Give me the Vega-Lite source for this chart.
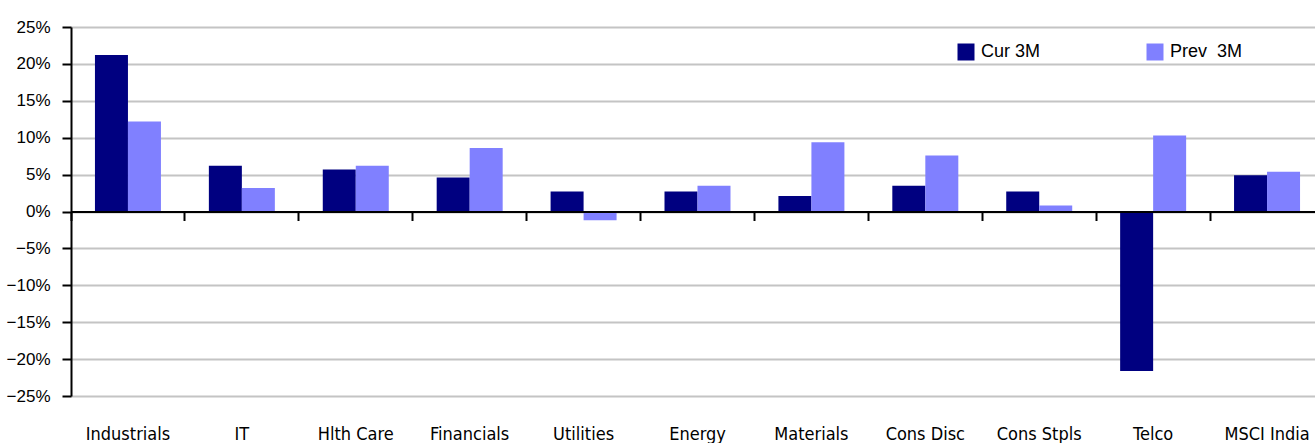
{
  "$schema": "https://vega.github.io/schema/vega-lite/v6.json",
  "width": 1244,
  "height": 369,
  "autosize": {"type": "none"},
  "padding": {"left": 71, "top": 27, "right": 0, "bottom": 47},
  "background": "white",
  "config": {
    "view": {"stroke": null},
    "axis": {"labelColor": "black"}
  },
  "data": {
    "values": [
      {"sector": "Industrials", "series": "Cur 3M", "value": 0.212},
      {"sector": "Industrials", "series": "Prev\u00a0 3M", "value": 0.122},
      {"sector": "IT", "series": "Cur 3M", "value": 0.062},
      {"sector": "IT", "series": "Prev\u00a0 3M", "value": 0.032},
      {"sector": "Hlth Care", "series": "Cur 3M", "value": 0.057},
      {"sector": "Hlth Care", "series": "Prev\u00a0 3M", "value": 0.062},
      {"sector": "Financials", "series": "Cur 3M", "value": 0.046},
      {"sector": "Financials", "series": "Prev\u00a0 3M", "value": 0.086},
      {"sector": "Utilities", "series": "Cur 3M", "value": 0.027},
      {"sector": "Utilities", "series": "Prev\u00a0 3M", "value": -0.012},
      {"sector": "Energy", "series": "Cur 3M", "value": 0.027},
      {"sector": "Energy", "series": "Prev\u00a0 3M", "value": 0.035},
      {"sector": "Materials", "series": "Cur 3M", "value": 0.021},
      {"sector": "Materials", "series": "Prev\u00a0 3M", "value": 0.094},
      {"sector": "Cons Disc", "series": "Cur 3M", "value": 0.035},
      {"sector": "Cons Disc", "series": "Prev\u00a0 3M", "value": 0.076},
      {"sector": "Cons Stpls", "series": "Cur 3M", "value": 0.027},
      {"sector": "Cons Stpls", "series": "Prev\u00a0 3M", "value": 0.008},
      {"sector": "Telco", "series": "Cur 3M", "value": -0.216},
      {"sector": "Telco", "series": "Prev\u00a0 3M", "value": 0.103},
      {"sector": "MSCI India", "series": "Cur 3M", "value": 0.049},
      {"sector": "MSCI India", "series": "Prev\u00a0 3M", "value": 0.054}
    ]
  },
  "encoding": {
    "y": {
      "field": "value",
      "type": "quantitative",
      "scale": {"domain": [-0.25, 0.25], "nice": false, "zero": false},
      "axis": {
        "title": null,
        "values": [-0.25, -0.2, -0.15, -0.1, -0.05, 0, 0.05, 0.1, 0.15, 0.2, 0.25],
        "format": ".0%",
        "labelFont": "Liberation Sans",
        "labelFontSize": 17,
        "labelPadding": 12,
        "tickSize": 9,
        "tickColor": "black",
        "tickWidth": 2,
        "domainColor": "black",
        "domainWidth": 2,
        "grid": true,
        "gridColor": "#c4c4c4",
        "gridWidth": 2
      }
    }
  },
  "layer": [
    {
      "mark": {"type": "bar"},
      "encoding": {
        "x": {
          "field": "sector",
          "type": "nominal",
          "sort": null,
          "scale": {"paddingInner": 0, "paddingOuter": 0, "range": [0, 1253]},
          "axis": {
            "orient": "bottom",
            "offset": -184.5,
            "title": null,
            "labels": false,
            "grid": false,
            "bandPosition": 0,
            "tickSize": 9,
            "tickColor": "black",
            "tickWidth": 2,
            "domainColor": "black",
            "domainWidth": 2,
            "zindex": 2
          }
        },
        "xOffset": {
          "field": "series",
          "type": "nominal",
          "sort": null,
          "scale": {"paddingInner": 0, "paddingOuter": 0.726}
        },
        "color": {
          "field": "series",
          "type": "nominal",
          "sort": null,
          "scale": {"range": ["#000080", "#8080FF"]},
          "legend": {
            "title": null,
            "orient": "none",
            "direction": "horizontal",
            "legendX": 886,
            "legendY": 16,
            "padding": 0,
            "symbolType": "square",
            "symbolSize": 289,
            "symbolStrokeWidth": 0,
            "symbolOpacity": 1,
            "labelFont": "Liberation Sans",
            "labelFontSize": 18,
            "labelColor": "black",
            "labelOffset": 6,
            "columnPadding": 105
          }
        }
      }
    },
    {
      "mark": {"type": "point", "opacity": 0},
      "encoding": {
        "x": {
          "field": "sector",
          "type": "nominal",
          "sort": null,
          "scale": {"paddingInner": 0, "paddingOuter": 0, "range": [0, 1253]},
          "axis": {
            "orient": "bottom",
            "title": null,
            "domain": false,
            "ticks": false,
            "tickSize": 0,
            "grid": false,
            "labelAngle": 0,
            "labelFont": "DejaVu Sans Condensed, Liberation Sans",
            "labelFontSize": 18,
            "labelBaseline": "alphabetic",
            "labelPadding": 43,
            "labelOverlap": false,
            "labelBound": false
          }
        }
      }
    }
  ],
  "resolve": {"axis": {"x": "independent"}}
}
